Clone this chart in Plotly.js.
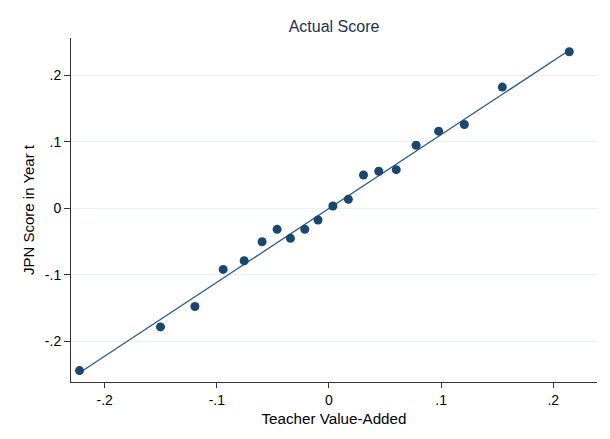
<!DOCTYPE html>
<html>
<head>
<meta charset="utf-8">
<script src="https://cdn.plot.ly/plotly-3.0.1.min.js"></script>
<style>html,body{margin:0;padding:0;background:#fff;}#chart{width:610px;height:439px;}</style>
</head>
<body>
<div id="chart"></div>
<script>
// Binned scatter points (Teacher Value-Added vs JPN Score in Year t)
const valueAdded = [-0.2224, -0.1502, -0.1195, -0.0943, -0.0756, -0.0596, -0.0462, -0.0343, -0.0215, -0.0097,
                    0.0035, 0.0173, 0.0308, 0.0444, 0.0600, 0.0777, 0.0978, 0.1207, 0.1546, 0.2143];
const jpnScore   = [-0.2443, -0.1786, -0.1478, -0.0920, -0.0790, -0.0504, -0.0317, -0.0452, -0.0317, -0.0176,
                    0.0035, 0.0136, 0.0502, 0.0558, 0.0582, 0.0950, 0.1161, 0.1261, 0.1825, 0.2357];
// Fitted line endpoints
const fitX = [-0.2224, 0.2143];
const fitY = [-0.2477, 0.2380];
// Tick values and labels
const xTickVals = [-0.2, -0.1, 0, 0.1, 0.2];
const xTickText = ["-.2", "-.1", "0", ".1", ".2"];
const yTickVals = [-0.2, -0.1, 0, 0.1, 0.2];
const yTickText = ["-.2", "-.1", "0", ".1", ".2"];

const navy = "#1a476f";
const fontFam = "Liberation Sans, Arial, Helvetica, sans-serif";

const traces = [
  {x: fitX, y: fitY, type: "scatter", mode: "lines",
   line: {color: "#2d5a86", width: 1.3}, hoverinfo: "skip"},
  {x: valueAdded, y: jpnScore, type: "scatter", mode: "markers",
   marker: {color: navy, size: 9}}
];

const layout = {
  width: 610, height: 439,
  paper_bgcolor: "#ffffff", plot_bgcolor: "#ffffff",
  showlegend: false,
  margin: {l: 70.7, r: 13, t: 38.3, b: 57.3},
  font: {family: fontFam, color: "#000"},
  title: {text: "Actual Score", font: {size: 16, color: "#22314f", family: fontFam},
          x: 0.5, xref: "paper", xanchor: "center", y: 1 - 26/439, yanchor: "middle"},
  xaxis: {
    range: [-0.2300, 0.2390], tickvals: xTickVals, ticktext: xTickText,
    showgrid: false, zeroline: false,
    showline: true, linecolor: "#333", linewidth: 1,
    ticks: "outside", ticklen: 5, tickcolor: "#333", tickwidth: 1,
    tickfont: {size: 14, color: "#000"},
    title: {text: "Teacher Value-Added", font: {size: 15.2, color: "#000"}, standoff: 6}
  },
  yaxis: {
    range: [-0.2615, 0.2564], tickvals: yTickVals, ticktext: yTickText,
    showgrid: true, gridcolor: "#e8f0f2", gridwidth: 1, zeroline: false,
    showline: true, linecolor: "#333", linewidth: 1,
    ticks: "outside", ticklen: 6, tickcolor: "#333", tickwidth: 1,
    tickfont: {size: 14, color: "#000"},
    title: {text: "JPN Score in Year t", font: {size: 15, color: "#000"}, standoff: 6}
  }
};

Plotly.newPlot("chart", traces, layout, {displayModeBar: false, staticPlot: true});
</script>
</body>
</html>
